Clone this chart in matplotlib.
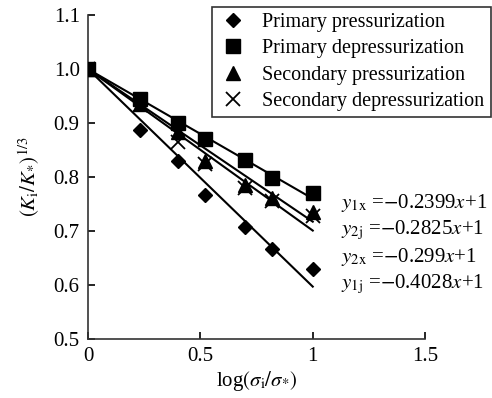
import numpy as np
import matplotlib
matplotlib.use("Agg")
import matplotlib.pyplot as plt
from matplotlib.lines import Line2D

plt.rcParams['font.family'] = ['Liberation Serif', 'DejaVu Serif']
plt.rcParams['mathtext.fontset'] = 'stix'

# log(sigma_i / sigma_*)
x = [0, 0.23, 0.40, 0.52, 0.70, 0.82, 1.0]

# (K_i/K_*)^(1/3) measured
prim_press = [1.0, 0.887, 0.830, 0.767, 0.708, 0.667, 0.630]
prim_depress = [1.0, 0.945, 0.900, 0.870, 0.831, 0.798, 0.770]
sec_press = [1.0, 0.935, 0.883, 0.830, 0.785, 0.761, 0.735]
sec_depress = [1.0, 0.933, 0.865, 0.825, 0.780, 0.755, 0.728]

# fitted slopes y = k x + 1
slopes = [-0.2399, -0.2825, -0.299, -0.4028]
eq_labels = [r'$y_{\rm 1x}$ =$-$0.2399$x$+1',
             r'$y_{\rm 2j}$ =$-$0.2825$x$+1',
             r'$y_{\rm 2x}$ =$-$0.299$x$+1',
             r'$y_{\rm 1j}$ =$-$0.4028$x$+1']
eq_y = [0.752, 0.702, 0.652, 0.602]

names = ["Primary pressurization", "Primary depressurization",
         "Secondary pressurization", "Secondary depressurization"]

fig = plt.figure(figsize=(4.92, 3.98), dpi=100)
ax = fig.add_axes([0.179, 0.148, 0.685, 0.814])

xf = np.array([0, 1.0])
for k in slopes:
    ax.plot(xf, k * xf + 1, color='black', lw=1.5, zorder=2)

ax.plot(x, prim_press, 'D', color='black', ms=7.5, zorder=3)
ax.plot(x, prim_depress, 's', color='black', ms=9.5, zorder=3)
ax.plot(x, sec_press, '^', color='black', ms=9.5, zorder=3)
ax.plot(x, sec_depress, 'x', color='black', ms=10, mew=1.3, zorder=3)

for t, yy in zip(eq_labels, eq_y):
    ax.text(1.125, yy, t, fontsize=15, va='center', ha='left')

ax.set_xlim(0, 1.5)
ax.set_ylim(0.5, 1.1)
ax.set_xticks([0, 0.5, 1, 1.5])
ax.set_xticklabels(['0', '0.5', '1', '1.5'])
ax.set_yticks([0.5, 0.6, 0.7, 0.8, 0.9, 1.0, 1.1])
ax.set_yticklabels(['0.5', '0.6', '0.7', '0.8', '0.9', '1.0', '1.1'])
ax.tick_params(direction='in', length=5, width=1.2, labelsize=15, pad=6)
ax.spines['top'].set_visible(False)
ax.spines['right'].set_visible(False)
for s in ['left', 'bottom']:
    ax.spines[s].set_linewidth(1.2)
    ax.spines[s].set_color('#333333')

ax.set_xlabel(r'log$(\sigma_{\rm i}/\sigma_{*})$', fontsize=15, labelpad=2)
ax.set_ylabel(r'$(K_{\rm i}/K_{*})^{1/3}$', fontsize=15, labelpad=8)

handles = [Line2D([], [], ls='none', marker='D', color='black', ms=7.5),
           Line2D([], [], ls='none', marker='s', color='black', ms=9.5),
           Line2D([], [], ls='none', marker='^', color='black', ms=9.5),
           Line2D([], [], ls='none', marker='x', color='black', ms=10, mew=1.3)]
leg = fig.legend(handles, names, loc='upper right', bbox_to_anchor=(0.997, 0.982),
                 fontsize=14.5, frameon=True, fancybox=False, edgecolor='black',
                 handlelength=1.5, handletextpad=0.7, borderpad=0.3,
                 labelspacing=0.35, borderaxespad=0)
leg.get_frame().set_linewidth(1.2)

fig.savefig('out.png', dpi=100)
